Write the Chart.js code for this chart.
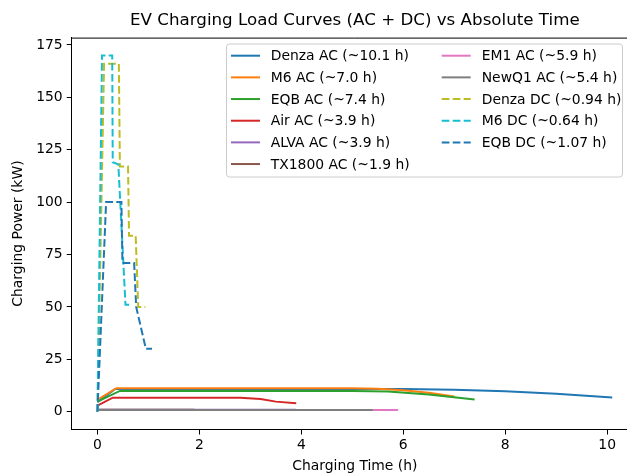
<!DOCTYPE html>
<html>
<head>
<meta charset="utf-8">
<script src="https://cdn.jsdelivr.net/npm/chart.js@4.4.0/dist/chart.umd.min.js"></script>
<style>
  html, body { margin: 0; padding: 0; overflow: hidden; background: #fff; }
  #wrap { width: 645px; height: 473px; }
</style>
</head>
<body>
<div id="wrap"><canvas id="chart"></canvas></div>
<script>
/* --------------- Series names and colours --------------------- */
const seriesNames = [
  "Denza AC (~10.1 h)", "M6 AC (~7.0 h)", "EQB AC (~7.4 h)", "Air AC (~3.9 h)",
  "ALVA AC (~3.9 h)", "TX1800 AC (~1.9 h)", "EM1 AC (~5.9 h)", "NewQ1 AC (~5.4 h)",
  "Denza DC (~0.94 h)", "M6 DC (~0.64 h)", "EQB DC (~1.07 h)",
];
const seriesColors = [
  "#1f77b4", "#ff7f0e", "#2ca02c", "#d62728", "#9467bd", "#8c564b",
  "#e377c2", "#7f7f7f", "#bcbd22", "#17becf", "#1f77b4",
];
const dashedSeries = [false, false, false, false, false, false, false, false, true, true, true];

/* --------------- Time (h) and power (kW) per curve --------------------- */
const denzaAcT = [0, 0.35, 6.0, 7.0, 8.0, 9.0, 10.1];
const denzaAcP = [4.5, 10.8, 10.8, 10.5, 9.8, 8.5, 6.8];
const m6AcT = [0, 0.37, 5.0, 5.5, 6.0, 6.5, 7.0];
const m6AcP = [5.6, 11.2, 11.2, 10.9, 10.2, 9.0, 7.3];
const eqbAcT = [0, 0.44, 5.0, 5.7, 6.5, 7.4];
const eqbAcP = [4.8, 9.9, 9.9, 9.6, 8.2, 5.8];
const airAcT = [0, 0.3, 2.8, 3.2, 3.5, 3.9];
const airAcP = [2.9, 6.7, 6.6, 6.0, 4.8, 4.0];
const alvaAcT = [0, 3.9];
const alvaAcP = [0.9, 0.9];
const tx1800AcT = [0, 1.9];
const tx1800AcP = [0.9, 0.9];
const em1AcT = [0, 5.9];
const em1AcP = [0.8, 0.8];
const newq1AcT = [0, 5.4];
const newq1AcP = [0.8, 0.8];
const denzaDcT = [0, 0.13, 0.42, 0.44, 0.60, 0.62, 0.75, 0.80, 0.94];
const denzaDcP = [0, 166, 166, 117, 117, 84, 84, 50, 50];
const m6DcT = [0, 0.09, 0.29, 0.30, 0.41, 0.55, 0.64];
const m6DcP = [0, 170, 170, 119, 118, 51, 51];
const eqbDcT = [0, 0.17, 0.47, 0.49, 0.72, 0.76, 0.95, 1.07];
const eqbDcP = [0, 100, 100, 71, 71, 50, 30, 30];

const seriesT = [denzaAcT, m6AcT, eqbAcT, airAcT, alvaAcT, tx1800AcT, em1AcT, newq1AcT, denzaDcT, m6DcT, eqbDcT];
const seriesP = [denzaAcP, m6AcP, eqbAcP, airAcP, alvaAcP, tx1800AcP, em1AcP, newq1AcP, denzaDcP, m6DcP, eqbDcP];

/* --------------- Axis ticks --------------------- */
const xTicks = [0, 2, 4, 6, 8, 10];
const yTicks = [0, 25, 50, 75, 100, 125, 150, 175];

const FONT = "'DejaVu Sans', sans-serif";
const DASH = [7.7, 3.3];

/* --------------- Title, frame and legend drawn by hand --------------------- */
const framePlugin = {
  id: "frame",
  afterDraw(chart) {
    const ctx = chart.ctx;
    const a = chart.chartArea;
    ctx.save();
    // top and right spines
    ctx.strokeStyle = "#000";
    ctx.lineWidth = 1;
    ctx.beginPath();
    ctx.moveTo(a.left, a.top + 0.5);
    ctx.lineTo(a.right, a.top + 0.5);
    ctx.moveTo(a.right - 0.5, a.top);
    ctx.lineTo(a.right - 0.5, a.bottom);
    ctx.stroke();

    // title
    ctx.fillStyle = "#000";
    ctx.font = "16.7px " + FONT;
    ctx.textAlign = "center";
    ctx.textBaseline = "middle";
    ctx.fillText("EV Charging Load Curves (AC + DC) vs Absolute Time", (a.left + a.right) / 2, 21);

    // legend
    const bx = 226.5, by = 44, bw = 396, bh = 133;
    ctx.fillStyle = "rgba(255,255,255,0.8)";
    ctx.strokeStyle = "#cccccc";
    ctx.lineWidth = 1;
    ctx.beginPath();
    ctx.roundRect(bx, by, bw, bh, 3);
    ctx.fill();
    ctx.stroke();
    ctx.font = "13.9px " + FONT;
    ctx.textAlign = "left";
    ctx.textBaseline = "middle";
    const rows = 6;
    seriesNames.forEach((name, i) => {
      const col = Math.floor(i / rows);
      const row = i % rows;
      const y = 55.7 + row * 21.67;
      const hx = col === 0 ? 231 : 441.7;
      const tx = col === 0 ? 270.7 : 481.7;
      ctx.strokeStyle = seriesColors[i];
      ctx.lineWidth = 2;
      ctx.setLineDash(dashedSeries[i] ? DASH : []);
      ctx.beginPath();
      ctx.moveTo(hx, y);
      ctx.lineTo(hx + 29, y);
      ctx.stroke();
      ctx.setLineDash([]);
      ctx.fillStyle = "#000";
      ctx.fillText(name, tx, y + 1);
    });
    ctx.restore();
  },
};

/* --------------- Chart --------------------- */
const datasets = seriesNames.map((name, i) => ({
  label: name,
  data: seriesT[i].map((t, k) => ({ x: t, y: seriesP[i][k] })),
  borderColor: seriesColors[i],
  backgroundColor: seriesColors[i],
  borderWidth: 2,
  borderDash: dashedSeries[i] ? DASH : [],
  showLine: true,
  pointRadius: 0,
  fill: false,
  tension: 0,
  order: seriesNames.length - i,
}));

new Chart(document.getElementById("chart"), {
  type: "scatter",
  data: { datasets },
  plugins: [framePlugin],
  options: {
    responsive: true,
    maintainAspectRatio: false,
    animation: false,
    events: [],
    layout: { padding: { top: 37.6, right: 7, left: 0, bottom: 0 } },
    plugins: { legend: { display: false }, tooltip: { enabled: false } },
    scales: {
      x: {
        type: "linear",
        min: -0.505,
        max: 10.605,
        afterFit: (s) => { s.height = 43.5; },
        afterBuildTicks: (s) => { s.ticks = xTicks.map((v) => ({ value: v })); },
        border: { display: true, color: "#000", width: 1 },
        grid: { drawOnChartArea: false, drawTicks: true, tickLength: 5, color: "#000" },
        ticks: { color: "#000", font: { family: FONT, size: 13.9 }, padding: 3, maxRotation: 0, includeBounds: false },
        title: { display: true, text: "Charging Time (h)", color: "#000", font: { family: FONT, size: 13.9 }, padding: { top: 0, bottom: -2 } },
      },
      y: {
        type: "linear",
        min: -8.5,
        max: 178.5,
        afterFit: (s) => { s.width = 71.7; },
        afterBuildTicks: (s) => { s.ticks = yTicks.map((v) => ({ value: v })); },
        border: { display: true, color: "#000", width: 1 },
        grid: { drawOnChartArea: false, drawTicks: true, tickLength: 5, color: "#000" },
        ticks: { color: "#000", font: { family: FONT, size: 13.9 }, padding: 4, includeBounds: false },
        title: { display: true, text: "Charging Power (kW)", color: "#000", font: { family: FONT, size: 13.9 }, padding: { top: 10, bottom: 0 } },
      },
    },
  },
});
</script>
</body>
</html>
